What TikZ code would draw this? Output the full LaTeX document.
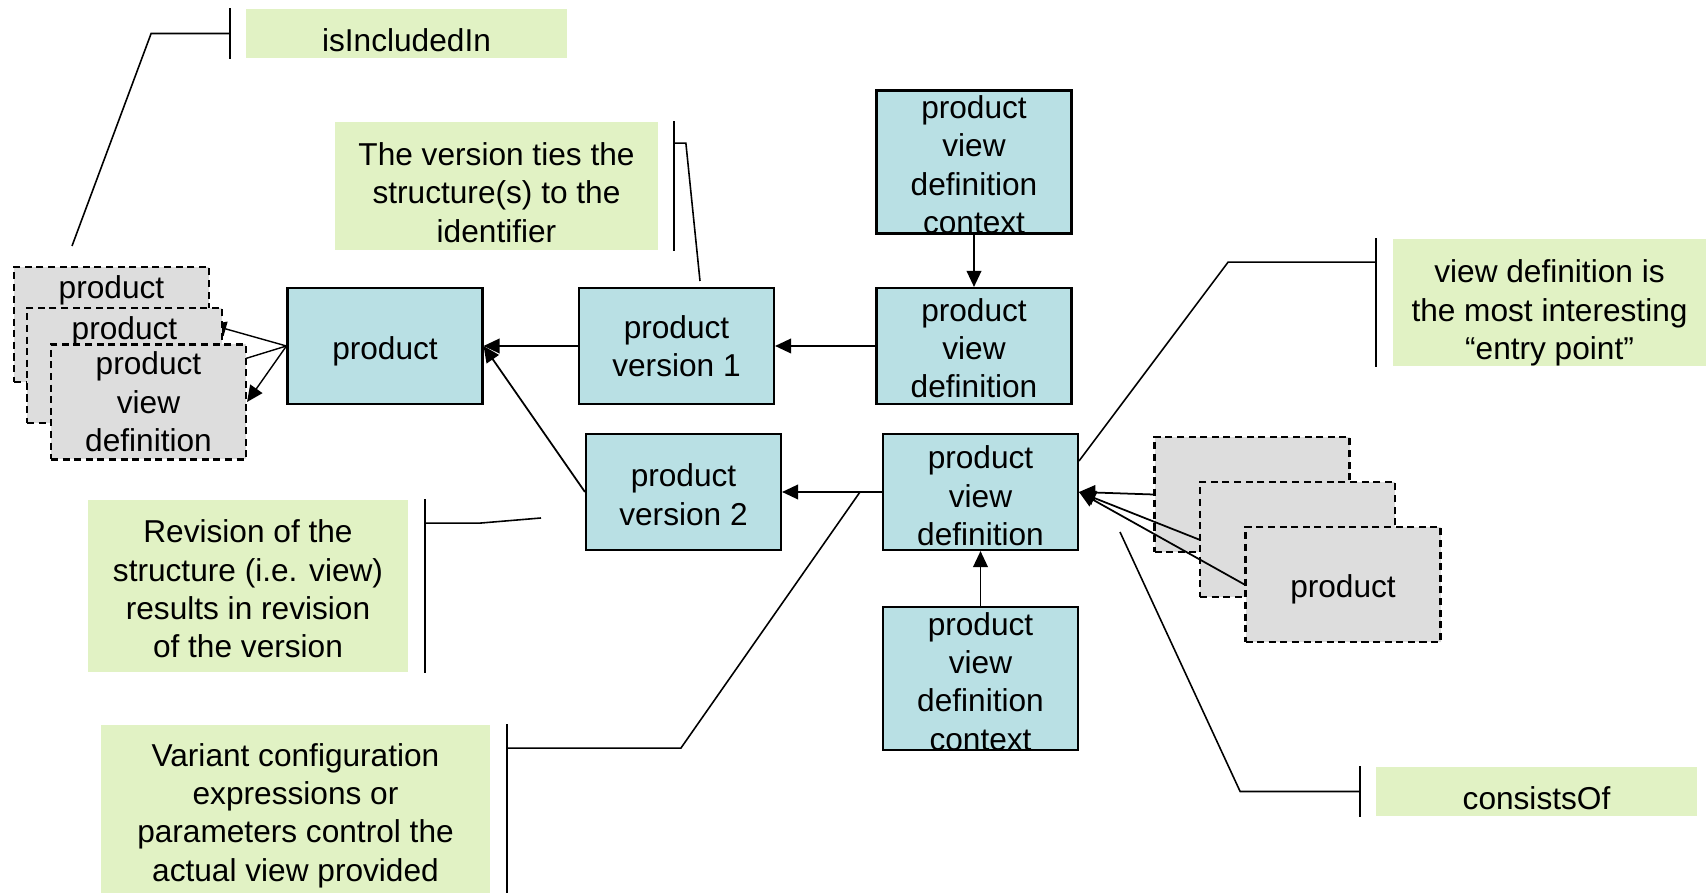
\documentclass[tikz,border=0pt]{standalone}
\usepackage{fontspec}
\setmainfont{Liberation Sans}
\usetikzlibrary{arrows.meta,positioning,backgrounds}
\definecolor{boxblue}{RGB}{185,224,228}
\definecolor{boxgray}{RGB}{221,221,221}
\definecolor{notegreen}{RGB}{225,242,196}
\tikzset{
block/.style = {draw, fill=boxblue, rectangle, line width=0.6pt, minimum width=1.95cm, minimum height=1.16cm, inner sep=0pt, align=center},
ctxblock/.style = {block, minimum height=1.42cm, text height=40.7pt, text depth=-0.4pt},
extblock/.style = {draw, fill=boxgray, rectangle, line width=0.6pt, dash pattern=on 2pt off 1.3pt, minimum width=1.95cm, minimum height=1.15cm, inner sep=0pt, align=center},
note/.style = {fill=notegreen, rectangle, inner sep=0pt, align=center},
bar/.style = {line width=0.6pt},
leader/.style = {line width=0.45pt}
}

\begin{document}
\begin{tikzpicture}[auto, >={Triangle[length=4.6pt,width=4.2pt]}, line width=0.5pt, font=\fontsize{9}{10.9}\selectfont]
  \useasboundingbox (0,0) rectangle (17.06,-8.93);

  \node [block, text height=9.5pt]                                 (prod)  at (3.85,-3.46) {product};
  \node [block, right of=prod, node distance=2.915cm]              (pv1)   {product\\version 1};
  \node [block, right of=pv1, node distance=2.975cm, text height=29.6pt] (pvd1) {product\\view\\definition};
  \node [ctxblock, above of=pvd1, node distance=1.84cm]            (ctx1)  {product\\view\\definition\\context};
  \node [block, below of=pvd1, node distance=1.46cm, xshift=0.065cm, text height=30.5pt] (pvd2) {product\\view\\definition};
  \node [block, left of=pvd2, node distance=2.97cm, text height=19pt] (pv2) {product\\version 2};
  \node [ctxblock, below of=pvd2, node distance=1.865cm]           (ctx2)  {product\\view\\definition\\context};

  \node [extblock, text depth=0.74cm] (pvdA) at (1.115,-3.245) {product};
  \node [extblock, text depth=0.74cm] (pvdB) at (1.245,-3.655) {product};
  \node [extblock]                    (pvdC) at (1.485,-4.02)  {product\\view\\definition};

  \node [extblock]                   (prodA) at (12.52,-4.945) {};
  \node [extblock]                   (prodB) at (12.975,-5.395) {};
  \node [extblock, text height=9.5pt] (prodC) at (13.43,-5.845) {product};

  \node [note, minimum width=3.21cm, minimum height=0.49cm, text height=10.5pt] (noteInc)  at (4.065,-0.335) {isIncludedIn};
  \node [note, minimum width=3.23cm, minimum height=1.28cm, text height=32pt]   (noteVer)  at (4.965,-1.86)  {The version ties the\\structure(s) to the\\identifier};
  \node [note, minimum width=3.20cm, minimum height=1.72cm, text height=41pt]   (noteRev)  at (2.48,-5.86)   {Revision of the\\structure (i.e. view)\\results in revision\\of the version};
  \node [note, minimum width=3.89cm, minimum height=1.68cm, text height=43pt]   (noteVar)  at (2.955,-8.09)  {Variant configuration\\expressions or\\parameters control the\\actual view provided};
  \node [note, minimum width=3.13cm, minimum height=1.27cm, text height=34.3pt] (noteView) at (15.495,-3.025) {view definition is\\the most interesting\\“entry point”};
  \node [note, minimum width=3.21cm, minimum height=0.49cm, text height=10.5pt] (noteCons) at (15.365,-7.915) {consistsOf};

  \coordinate (incTip)  at (0.72,-2.46);
  \coordinate (verTip)  at (7.00,-2.81);
  \coordinate (revTip)  at (5.41,-5.18);
  \coordinate (varTip)  at (8.60,-4.92);
  \coordinate (viewTip) at (10.79,-4.61);
  \coordinate (consTip) at (11.20,-5.32);

  \draw [->] (ctx1) -- (pvd1);
  \draw [->] (pvd1) -- (pv1);
  \draw [->] (pv1) -- (prod);
  \draw [->] (pv2.west) -- (prod.east);
  \draw [->] (pvd2) -- (pv2);
  \draw [->] (ctx2) -- (pvd2);
  \draw [->] (prodA.west) -- (pvd2.east);
  \draw [->] (prodB.west) -- (pvd2.east);
  \draw [->] (prodC.west) -- (pvd2.east);
  \begin{scope}[on background layer]
    \draw [->] (prod.west) -- (pvdA.east);
    \draw [->] (prod.west) -- (pvdB.east);
    \draw [->] (prod.west) -- (pvdC.east);
  \end{scope}

  \draw [bar] ([xshift=-0.15cm]noteInc.north west) -- ([xshift=-0.15cm]noteInc.south west);
  \draw [leader] ([xshift=-0.15cm]noteInc.west) -- ++(-0.79,0) -- (incTip);
  \draw [bar] ([xshift=0.15cm]noteVer.north east) -- ([xshift=0.15cm]noteVer.south east);
  \draw [leader] ([xshift=0.15cm,yshift=-0.22cm]noteVer.north east) -- ++(0.12,0) -- (verTip);
  \draw [bar] ([xshift=0.16cm]noteRev.north east) -- ([xshift=0.16cm]noteRev.south east);
  \draw [leader] ([xshift=0.16cm,yshift=-0.24cm]noteRev.north east) -- ++(0.55,0) -- (revTip);
  \draw [bar] ([xshift=0.16cm]noteVar.north east) -- ([xshift=0.16cm]noteVar.south east);
  \draw [leader] ([xshift=0.16cm,yshift=-0.24cm]noteVar.north east) -- ++(1.74,0) -- (varTip);
  \draw [bar] ([xshift=-0.16cm]noteView.north west) -- ([xshift=-0.16cm]noteView.south west);
  \draw [leader] ([xshift=-0.16cm,yshift=-0.24cm]noteView.north west) -- ++(-1.48,0) -- (viewTip);
  \draw [bar] ([xshift=-0.15cm]noteCons.north west) -- ([xshift=-0.15cm]noteCons.south west);
  \draw [leader] ([xshift=-0.15cm]noteCons.west) -- ++(-1.20,0) -- (consTip);
\end{tikzpicture}
\end{document}
